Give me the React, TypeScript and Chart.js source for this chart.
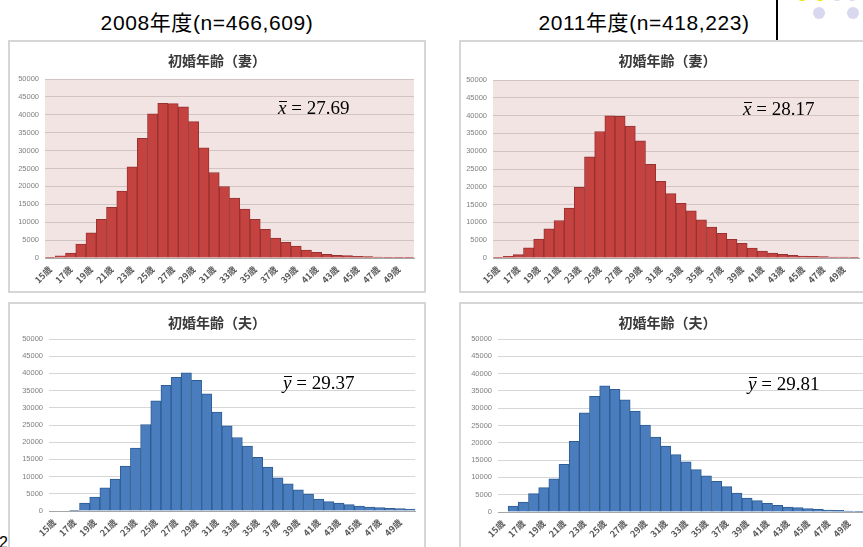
import React, { useEffect, useRef } from "react";
import { Chart, registerables } from "chart.js";

Chart.register(...registerables);

// Age categories (one bar per year of age)
const ageLabels = [
  "15歳", "16歳", "17歳", "18歳", "19歳", "20歳", "21歳", "22歳", "23歳", "24歳",
  "25歳", "26歳", "27歳", "28歳", "29歳", "30歳", "31歳", "32歳", "33歳", "34歳",
  "35歳", "36歳", "37歳", "38歳", "39歳", "40歳", "41歳", "42歳", "43歳", "44歳",
  "45歳", "46歳", "47歳", "48歳", "49歳", "50歳",
];

// Number of first marriages by age
const wife2008 = [
  200, 600, 1400, 3900, 7060, 10780, 14130, 18680, 25460, 33460,
  40240, 43220, 43120, 42200, 38100, 30760, 23880, 19980, 16730, 13660,
  10780, 7990, 5580, 4370, 3350, 2230, 1580, 1020, 740, 650,
  460, 370, 280, 190, 100, 80,
];
const wife2011 = [
  100, 470, 930, 2890, 5320, 8210, 10540, 13990, 19870, 28450,
  35540, 39930, 39830, 37030, 32930, 26310, 21550, 18100, 15390, 13250,
  10730, 8680, 6900, 5220, 4100, 2800, 1960, 1400, 1030, 750,
  560, 470, 370, 280, 280, 190,
];
const husband2008 = [
  0, 0, 100, 2320, 4060, 6770, 9290, 13060, 18280, 25150,
  32010, 36560, 38880, 40140, 38010, 34040, 28720, 24760, 21370, 18860,
  15570, 12770, 9670, 7930, 6190, 4930, 3480, 2710, 2320, 1840,
  1450, 1160, 970, 770, 680, 580,
];
const husband2011 = [
  0, 1740, 2900, 5310, 7050, 9560, 13800, 20460, 28670, 33400,
  36490, 35420, 32430, 29150, 25100, 21620, 19020, 16600, 14480, 12260,
  10420, 8880, 7340, 5500, 4050, 3280, 2510, 1930, 1450, 1250,
  970, 770, 580, 480, 290, 190,
];

// Value axis
const yMin = 0;
const yMax = 50000;
const yStep = 5000;

// Headline texts and means
const headings = ["2008年度(n=466,609)", "2011年度(n=418,223)"];
const chartTitles = ["初婚年齢（妻）", "初婚年齢（夫）"];
const means = ["27.69", "28.17", "29.37", "29.81"];

const RED = { fill: "#c4423f", edge: "#973230", bg: "#f3e4e4", grid: "#d3c3c3" };
const BLUE = { fill: "#4a7dbd", edge: "#2e5c93", bg: "#ffffff", grid: "#d6d6d6" };

const plotBackground = {
  id: "plotBackground",
  beforeDraw(chart: any, _args: any, opts: any) {
    if (!opts || !opts.color) return;
    const { ctx, chartArea } = chart;
    ctx.save();
    ctx.fillStyle = opts.color;
    ctx.fillRect(chartArea.left, chartArea.top, chartArea.right - chartArea.left, chartArea.bottom - chartArea.top);
    ctx.restore();
  },
};

type PanelProps = {
  box: { x: number; y: number; w: number; h: number };
  plot: { l: number; t: number; r: number; b: number };
  title: string;
  titleY: number;
  values: number[];
  palette: typeof RED;
  variable: string;
  mean: string;
  meanX: number;
  meanBaseline: number;
};

const BORDER = 2;

function Panel(p: PanelProps) {
  const ref = useRef<HTMLCanvasElement | null>(null);
  const cw = p.box.w - BORDER * 2;
  const ch = p.box.h - BORDER * 2;
  const cx = p.box.x + BORDER;
  const cy = p.box.y + BORDER;
  const padLeft = p.plot.l - cx;
  const padRight = cx + cw - p.plot.r;
  const padTop = p.plot.t - cy;
  const padBottom = cy + ch - p.plot.b;

  useEffect(() => {
    if (!ref.current) return;
    const chart = new Chart(ref.current, {
      type: "bar",
      data: {
        labels: ageLabels,
        datasets: [
          {
            data: p.values,
            backgroundColor: p.palette.fill,
            borderColor: p.palette.edge,
            borderWidth: 1,
            categoryPercentage: 1,
            barPercentage: 1,
          },
        ],
      },
      plugins: [plotBackground],
      options: {
        animation: false,
        responsive: false,
        maintainAspectRatio: false,
        events: [],
        layout: { padding: { left: 0, top: padTop, right: padRight, bottom: 0 } },
        plugins: {
          legend: { display: false },
          title: { display: false },
          tooltip: { enabled: false },
          plotBackground: { color: p.palette.bg },
        } as any,
        scales: {
          x: {
            grid: { display: false, drawTicks: false },
            border: { display: true, color: "#a6a6a6", width: 1 },
            ticks: {
              autoSkip: false,
              minRotation: 45,
              maxRotation: 45,
              padding: 6,
              color: "#5a5a5a",
              font: { family: "'Noto Sans CJK JP', 'Liberation Sans', sans-serif", size: 9, weight: "bold" },
              callback: (_v: any, i: number) => (i % 2 === 0 ? ageLabels[i] : ""),
            },
            afterFit: (s: any) => {
              s.height = padBottom;
            },
          },
          y: {
            min: yMin,
            max: yMax,
            grid: { color: p.palette.grid, lineWidth: 1, drawTicks: false },
            border: { display: false },
            ticks: {
              stepSize: yStep,
              padding: 6,
              color: "#808080",
              font: { family: "'Liberation Sans', Arial, sans-serif", size: 7.5 },
              callback: (v: any) => String(v),
            },
            afterFit: (s: any) => {
              s.width = padLeft;
            },
          },
        },
      },
    });
    return () => chart.destroy();
  }, []);

  const fs = 19;
  return (
    <>
      <div
        style={{
          position: "absolute",
          left: p.box.x,
          top: p.box.y,
          width: p.box.w,
          height: p.box.h,
          boxSizing: "border-box",
          border: `${BORDER}px solid #d6d6d6`,
          background: "#ffffff",
        }}
      />
      <canvas
        ref={ref}
        width={cw}
        height={ch}
        style={{ position: "absolute", left: cx, top: cy, width: cw, height: ch }}
      />
      <div
        style={{
          position: "absolute",
          left: p.box.x,
          width: p.box.w,
          top: p.titleY - 9,
          height: 18,
          lineHeight: "18px",
          textAlign: "center",
          fontFamily: "'Noto Sans CJK JP', sans-serif",
          fontWeight: 700,
          fontSize: 14,
          color: "#3a3a3a",
        }}
      >
        {p.title}
      </div>
      <div
        style={{
          position: "absolute",
          left: p.meanX,
          top: p.meanBaseline - 16,
          fontFamily: "'Liberation Serif', 'Times New Roman', serif",
          fontSize: fs,
          lineHeight: `${fs}px`,
          whiteSpace: "nowrap",
          color: "#000",
        }}
      >
        <span style={{ position: "relative", fontStyle: "italic" }}>
          {p.variable}
          <span
            style={{
              position: "absolute",
              left: 1,
              right: -1,
              top: 4,
              height: 1,
              background: "#000",
            }}
          />
        </span>
        {" = " + p.mean}
      </div>
    </>
  );
}

export default function App() {
  const headStyle: React.CSSProperties = {
    position: "absolute",
    top: 11,
    height: 24,
    lineHeight: "24px",
    fontFamily: "'Liberation Sans', 'Noto Sans CJK JP', sans-serif",
    fontSize: 21,
    color: "#000",
    whiteSpace: "nowrap",
    textAlign: "center",
    letterSpacing: 0.6,
  };
  const dot = (x: number, y: number, c: string) => (
    <div
      key={`${x}-${y}`}
      style={{
        position: "absolute",
        left: x - 6,
        top: y - 6,
        width: 12,
        height: 12,
        borderRadius: 6,
        background: c,
      }}
    />
  );
  return (
    <div
      style={{
        position: "fixed",
        left: 0,
        top: 0,
        width: 863,
        height: 547,
        overflow: "hidden",
        background: "#ffffff",
      }}
    >
      <div style={{ ...headStyle, left: 57, width: 300 }}>{headings[0]}</div>
      <div style={{ ...headStyle, left: 494, width: 300 }}>{headings[1]}</div>

      <div style={{ position: "absolute", left: 776, top: 0, width: 2, height: 41, background: "#000" }} />
      {dot(802, -5, "#e6e600")}
      {dot(820, -5, "#e6e600")}
      {dot(837, -5, "#d8d8ee")}
      {dot(852, -5, "#d8d8ee")}
      {dot(819, 13, "#d8d8ee")}
      {dot(853, 13, "#d8d8ee")}

      <Panel
        box={{ x: 8, y: 40, w: 418, h: 253 }}
        plot={{ l: 45, t: 79, r: 414, b: 258 }}
        title={chartTitles[0]}
        titleY={60}
        values={wife2008}
        palette={RED}
        variable="x"
        mean={means[0]}
        meanX={278}
        meanBaseline={114}
      />
      <Panel
        box={{ x: 459, y: 40, w: 417, h: 253 }}
        plot={{ l: 493, t: 80, r: 859, b: 258 }}
        title={chartTitles[0]}
        titleY={60}
        values={wife2011}
        palette={RED}
        variable="x"
        mean={means[1]}
        meanX={743}
        meanBaseline={115}
      />
      <Panel
        box={{ x: 8, y: 302, w: 418, h: 253 }}
        plot={{ l: 49, t: 339, r: 416, b: 511 }}
        title={chartTitles[1]}
        titleY={322}
        values={husband2008}
        palette={BLUE}
        variable="y"
        mean={means[2]}
        meanX={283}
        meanBaseline={389}
      />
      <Panel
        box={{ x: 459, y: 302, w: 417, h: 253 }}
        plot={{ l: 498, t: 339, r: 864, b: 512 }}
        title={chartTitles[1]}
        titleY={322}
        values={husband2011}
        palette={BLUE}
        variable="y"
        mean={means[3]}
        meanX={748}
        meanBaseline={390}
      />

      <div
        style={{
          position: "absolute",
          left: -1,
          top: 535,
          fontFamily: "'Liberation Sans', sans-serif",
          fontSize: 16,
          lineHeight: "16px",
          color: "#000",
        }}
      >
        2
      </div>
    </div>
  );
}
